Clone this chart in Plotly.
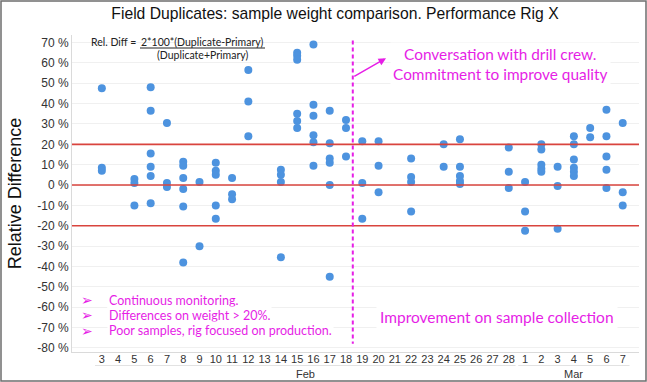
import plotly.graph_objects as go
from datetime import datetime, timedelta

# ---------------- data ----------------
sample_days = ["2021-02-03", "2021-02-05", "2021-02-06", "2021-02-07", "2021-02-08",
               "2021-02-09", "2021-02-10", "2021-02-11", "2021-02-12", "2021-02-14",
               "2021-02-15", "2021-02-16", "2021-02-17", "2021-02-18", "2021-02-19",
               "2021-02-20", "2021-02-22", "2021-02-24", "2021-02-25", "2021-02-28",
               "2021-03-01", "2021-03-02", "2021-03-03", "2021-03-04", "2021-03-05",
               "2021-03-06", "2021-03-07"]
rel_diff_by_day = [
    [47.5, 8.5, 7],
    [3, 1, -10],
    [48, 36.5, 15.5, 9, 4.5, -9],
    [30.5, 1, -1],
    [11.5, 9.5, 3.5, -2, -10.5, -38],
    [1.5, -30],
    [11, 7, 5, -10, -16.5],
    [3.5, -4.5, -7],
    [56.5, 41, 24],
    [7.5, 5, 1.5, -35.5],
    [65, 63.5, 61.5, 35, 31.5, 28],
    [69, 39.5, 34, 24.5, 21, 9.5],
    [36.5, 20.5, 13, 11, 0, -45],
    [32, 28, 14],
    [21.5, 1, -16.5],
    [21.5, 9.5, -3.5],
    [13, 4, 1.5, -13],
    [20, 9],
    [22.5, 9, 4.5, 2, 0.5],
    [18.5, 6.5, -1.5],
    [1.5, -13, -22.5],
    [20, 17.5, 10, 8, 6.5],
    [9, -0.5, -21.5],
    [24, 20, 12.5, 8.5, 6.5, 4.5],
    [28, 23.5],
    [37, 24, 14, 7.5, -1.5],
    [30.5, -3.5, -10],
]
limit_lines = [20, 0, -20]
y_tick_vals = [70, 60, 50, 40, 30, 20, 10, 0, -10, -20, -30, -40, -50, -60, -70, -80]
y_tick_text = [f"{v} %" for v in y_tick_vals]
x_start, x_end = "2021-02-03", "2021-03-07"
months = [("Feb", "2021-02-15 12:00"), ("Mar", "2021-03-04")]

x_pts, y_pts = [], []
for d, vals in zip(sample_days, rel_diff_by_day):
    for v in vals:
        x_pts.append(d)
        y_pts.append(v)

d0 = datetime.strptime(x_start, "%Y-%m-%d")
d1 = datetime.strptime(x_end, "%Y-%m-%d")
tick_dates = []
d = d0
while d <= d1:
    tick_dates.append(d)
    d += timedelta(days=1)
tick_text = [str(t.day) for t in tick_dates]

# ---------------- layout geometry ----------------
W, H = 647, 382
L, R, T, B = 72, 8, 35, 30
PW, PH = W - L - R, H - T - B

def px(xp):
    return (xp - L) / PW

def py(yp):
    return (H - B - yp) / PH

MAG = "#E61EE6"
RED = "#D9443E"

fig = go.Figure()
fig.add_trace(go.Scatter(
    x=x_pts, y=y_pts, mode="markers",
    marker=dict(size=8, color="#4D93DF", line=dict(width=0)),
    showlegend=False, hoverinfo="x+y"))

shapes = []
for v in limit_lines:
    shapes.append(dict(type="line", xref="paper", yref="y", x0=0, x1=1, y0=v, y1=v,
                       line=dict(color=RED, width=1.6), layer="above"))
# dashed magenta divider
shapes.append(dict(type="line", xref="x", yref="y",
                   x0="2021-02-18 10:00", x1="2021-02-18 10:00", y0=71, y1=-78,
                   line=dict(color=MAG, width=2, dash="4px,3px")))
# month group separator lines
shapes.append(dict(type="line", xref="x", yref="paper", x0="2021-02-02 14:00", x1="2021-02-28 10:00",
                   y0=py(365.5), y1=py(365.5), line=dict(color="#E2E2E2", width=1)))
shapes.append(dict(type="line", xref="x", yref="paper", x0="2021-02-28 14:00", x1="2021-03-07 10:00",
                   y0=py(365.5), y1=py(365.5), line=dict(color="#E2E2E2", width=1)))
# fraction bar
shapes.append(dict(type="line", xref="paper", yref="paper", x0=px(140), x1=px(265),
                   y0=py(48), y1=py(48), line=dict(color="#222", width=1)))
# outer frame
shapes.append(dict(type="rect", xref="paper", yref="paper", x0=px(1), x1=px(646),
                   y0=py(381), y1=py(1), line=dict(color="#6E6E6E", width=1.5)))

ann = []
ann.append(dict(text="Rel. Diff =", xref="paper", yref="paper", x=px(138), y=py(42),
                xanchor="right", yanchor="middle", showarrow=False,
                font=dict(family="Lato", size=10.5, color="#222")))
ann.append(dict(text="2*100*(Duplicate-Primary)", xref="paper", yref="paper", x=px(202), y=py(42),
                xanchor="center", yanchor="middle", showarrow=False,
                font=dict(family="Lato", size=10.5, color="#222")))
ann.append(dict(text="(Duplicate+Primary)", xref="paper", yref="paper", x=px(202), y=py(55),
                xanchor="center", yanchor="middle", showarrow=False,
                font=dict(family="Lato", size=10.5, color="#222")))
ann.append(dict(text="Conversation with drill crew.<br>Commitment to improve quality",
                xref="paper", yref="paper", x=px(500), y=py(63.5), xanchor="center", yanchor="middle",
                showarrow=False, bgcolor="white", borderpad=2,
                font=dict(family="Lato", size=15.4, color=MAG)))
ann.append(dict(text="", x="2021-02-20 11:00", y=62.3, ax="2021-02-18 10:00", ay=53,
                xref="x", yref="y", axref="x", ayref="y", showarrow=True,
                arrowhead=2, arrowsize=1, arrowwidth=1.5, arrowcolor=MAG))
ann.append(dict(text="Improvement on sample collection", xref="paper", yref="paper",
                x=px(497), y=py(317), xanchor="center", yanchor="middle", showarrow=False,
                bgcolor="white", borderpad=3,
                font=dict(family="Lato", size=15.5, color=MAG)))
bullets = ["Continuous monitoring.", "Differences on weight > 20%.",
           "Poor samples, rig focused on production."]
for i, b in enumerate(bullets):
    yy = py(300 + 15.4 * i)
    ann.append(dict(text="<b>➢</b>", xref="paper", yref="paper", x=px(87), y=yy, xanchor="center",
                    yanchor="middle", showarrow=False, font=dict(family="DejaVu Sans", size=14, color=MAG)))
    ann.append(dict(text=b, xref="paper", yref="paper", x=px(107), y=yy, xanchor="left",
                    yanchor="middle", showarrow=False, bgcolor="white",
                    font=dict(family="Lato", size=12.5, color=MAG)))
for name, center in months:
    ann.append(dict(text=name, xref="x", yref="paper", x=center, y=py(373.5), xanchor="center",
                    yanchor="middle", showarrow=False,
                    font=dict(family="Liberation Sans", size=11, color="#333")))

fig.update_layout(
    width=W, height=H,
    margin=dict(l=L, r=R, t=T, b=B, pad=0),
    paper_bgcolor="white", plot_bgcolor="white",
    title=dict(text="Field Duplicates: sample weight comparison. Performance Rig X",
               xref="container", x=335 / W, xanchor="center", y=1 - 14 / H, yanchor="middle",
               font=dict(family="Liberation Sans", size=15.7, color="#111")),
    shapes=shapes, annotations=ann,
    xaxis=dict(type="date", range=["2021-02-01 04:00", "2021-03-08 00:00"],
               tickvals=tick_dates, ticktext=tick_text, showgrid=False,
               showline=True, linecolor="#DADADA", linewidth=1, ticks="",
               ticklabelstandoff=-3,
               tickfont=dict(family="Liberation Sans", size=11, color="#333"), zeroline=False),
    yaxis=dict(range=[-82, 73.7], tickvals=y_tick_vals, ticktext=y_tick_text,
               showgrid=True, gridcolor="#F0F0F0", gridwidth=1, zeroline=False,
               showline=True, linecolor="#DADADA", linewidth=1, ticks="",
               tickfont=dict(family="Liberation Sans", size=12, color="#333"),
               title=dict(text="Relative Difference", standoff=10,
                          font=dict(family="Liberation Sans", size=18, color="#111"))),
)

fig.write_html("out.html", config={"displayModeBar": False},
               post_script="document.body.style.margin='0px';")
